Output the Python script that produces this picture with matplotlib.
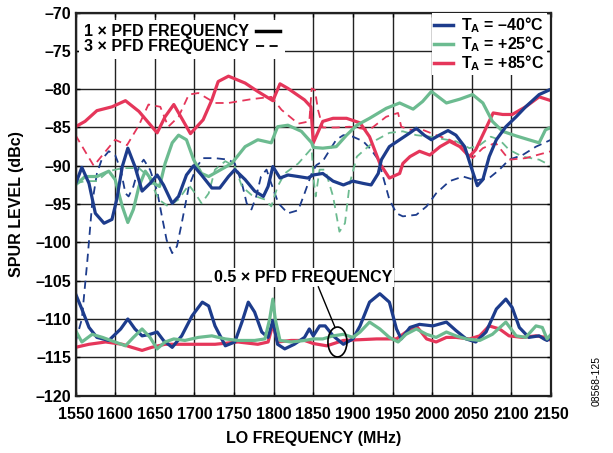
import matplotlib.pyplot as plt
from matplotlib.lines import Line2D
from matplotlib.patches import Ellipse

plt.rcParams['font.family'] = ['Liberation Sans', 'DejaVu Sans']
plt.rcParams['font.weight'] = 'bold'
plt.rcParams['mathtext.fontset'] = 'custom'
plt.rcParams['mathtext.bf'] = 'Liberation Sans:bold'
plt.rcParams['mathtext.rm'] = 'Liberation Sans:bold'
plt.rcParams['mathtext.default'] = 'bf'

# colours per temperature
BLUE = '#1d3c8c'
GREEN = '#6cbb90'
RED = '#e5365a'

# ---- 1 x PFD frequency (solid) ----
b1_f = [1550, 1558, 1567, 1575, 1586, 1596, 1602, 1609, 1616, 1625, 1634, 1644, 1653, 1661, 1672,
        1680, 1690, 1699, 1709, 1722, 1732, 1743, 1751, 1764, 1776, 1787, 1793, 1799, 1808, 1818,
        1831, 1843, 1850, 1862, 1875, 1888, 1900, 1913, 1923, 1932, 1936, 1946, 1959, 1972, 1980,
        1990, 1999, 2009, 2020, 2030, 2041, 2049, 2057, 2064, 2072, 2081, 2093, 2106, 2118, 2135, 2150]
b1_v = [-92.4, -90.2, -92.3, -96.2, -97.5, -97.0, -94.4, -90.1, -87.7, -90.1, -93.3, -92.3, -91.2, -92.5, -94.9,
        -94.0, -91.2, -90.0, -91.2, -92.9, -92.9, -91.4, -90.5, -91.8, -93.3, -94.0, -92.7, -90.1, -91.6, -91.2,
        -91.4, -91.6, -91.2, -91.0, -92.0, -92.5, -92.0, -92.3, -92.5, -91.0, -89.2, -87.5, -86.6, -85.7, -85.1,
        -86.0, -86.6, -86.0, -85.4, -86.0, -87.5, -90.1, -92.6, -91.8, -88.8, -86.6, -84.9, -83.6, -82.3, -80.7, -80.0]

g1_f = [1550, 1562, 1577, 1592, 1600, 1609, 1616, 1623, 1630, 1638, 1649, 1656, 1663, 1672, 1680,
        1690, 1699, 1709, 1718, 1730, 1747, 1764, 1780, 1797, 1805, 1818, 1835, 1848, 1850, 1862,
        1879, 1892, 1905, 1921, 1942, 1959, 1976, 1988, 1999, 2018, 2035, 2051, 2064, 2076, 2089,
        2106, 2122, 2135, 2143, 2150]
g1_v = [-92.5, -91.4, -91.4, -90.7, -91.8, -95.3, -97.4, -95.7, -92.7, -90.7, -92.3, -92.7, -89.7, -87.0, -86.0,
        -86.6, -89.2, -91.0, -91.4, -90.7, -89.7, -87.5, -86.6, -87.0, -84.9, -84.7, -85.5, -87.0, -87.6, -87.7,
        -87.5, -86.0, -84.7, -83.8, -82.5, -81.8, -82.6, -81.6, -80.3, -81.8, -81.3, -80.7, -81.8, -84.2, -85.5,
        -86.1, -86.6, -87.0, -85.3, -85.0]

r1_f = [1550, 1562, 1577, 1596, 1613, 1630, 1653, 1663, 1674, 1684, 1695, 1711, 1722, 1730, 1743,
        1764, 1780, 1799, 1808, 1818, 1839, 1847, 1850, 1862, 1875, 1892, 1909, 1921, 1934, 1946,
        1959, 1963, 1972, 1984, 1997, 2010, 2022, 2035, 2047, 2055, 2066, 2077, 2089, 2101, 2118,
        2135, 2150]
r1_v = [-84.9, -84.2, -82.8, -82.3, -81.5, -82.9, -85.7, -83.6, -82.0, -83.8, -85.8, -84.0, -81.4, -79.0, -78.3,
        -79.2, -80.3, -81.5, -79.3, -79.9, -81.4, -82.3, -87.0, -84.2, -83.8, -83.8, -84.4, -86.2, -89.7, -91.6,
        -91.0, -89.7, -88.8, -88.1, -88.6, -87.5, -86.8, -87.5, -88.8, -87.9, -85.5, -83.1, -83.3, -83.3, -82.3,
        -81.0, -81.5]

# ---- 3 x PFD frequency (dashed) ----
b3_f = [1550, 1558, 1565, 1571, 1577, 1583, 1592, 1600, 1607, 1613, 1617, 1623, 1630, 1636, 1644,
        1653, 1659, 1665, 1672, 1678, 1684, 1693, 1703, 1711, 1726, 1743, 1751, 1760, 1766, 1772,
        1778, 1784, 1791, 1797, 1806, 1818, 1831, 1839, 1848, 1854, 1862, 1871, 1879, 1888, 1900,
        1913, 1923, 1932, 1938, 1946, 1955, 1963, 1980, 1993, 2005, 2022, 2039, 2055, 2072, 2085,
        2097, 2114, 2131, 2150]
b3_v = [-113.0, -110.0, -102.3, -94.9, -91.0, -89.2, -88.1, -88.6, -90.5, -93.6, -94.0, -92.7, -90.1, -89.2, -90.5,
        -93.3, -96.6, -99.7, -101.4, -100.5, -97.5, -92.7, -90.1, -89.0, -89.0, -89.2, -89.7, -92.3, -94.9, -95.7,
        -94.0, -91.4, -90.5, -92.3, -94.9, -96.2, -95.8, -93.6, -91.0, -89.9, -89.4, -87.9, -86.6, -86.0, -86.2,
        -86.8, -87.9, -89.2, -91.4, -94.4, -96.2, -96.6, -96.4, -95.3, -93.6, -92.0, -91.4, -91.9, -91.6, -90.5,
        -89.2, -88.6, -87.5, -86.6]

g3_f = [1550, 1562, 1577, 1592, 1609, 1630, 1642, 1655, 1667, 1680, 1693, 1701, 1709, 1718, 1726,
        1739, 1751, 1760, 1772, 1789, 1797, 1805, 1814, 1831, 1843, 1848, 1850, 1853, 1858, 1865,
        1875, 1883, 1890, 1896, 1905, 1917, 1930, 1946, 1963, 1980, 1997, 2013, 2030, 2047, 2060,
        2074, 2085, 2097, 2114, 2135, 2150]
g3_v = [-92.3, -92.0, -92.0, -90.7, -90.3, -90.3, -91.4, -94.4, -95.3, -94.4, -92.5, -93.6, -94.9, -93.6, -90.5,
        -89.4, -90.1, -92.7, -93.8, -94.4, -95.3, -92.7, -91.0, -89.7, -88.3, -87.7, -91.4, -94.0, -90.5, -90.5,
        -94.0, -98.6, -97.5, -92.3, -88.8, -87.7, -86.6, -85.7, -85.5, -86.0, -86.2, -86.5, -86.8, -87.7, -87.3,
        -86.2, -86.6, -87.9, -88.8, -89.2, -90.0]

r3_f = [1550, 1562, 1573, 1588, 1600, 1615, 1630, 1642, 1657, 1667, 1680, 1693, 1705, 1726, 1743,
        1772, 1797, 1810, 1831, 1845, 1848, 1852, 1856, 1862, 1879, 1896, 1921, 1942, 1957, 1961,
        1972, 1988, 2005, 2022, 2039, 2051, 2064, 2080, 2097, 2118, 2150]
r3_v = [-86.0, -88.1, -90.0, -88.1, -86.6, -87.3, -84.7, -82.0, -82.3, -84.9, -83.6, -80.7, -80.5, -81.8, -81.8,
        -81.3, -81.0, -82.7, -84.5, -84.2, -79.9, -80.1, -82.7, -85.0, -85.0, -84.9, -85.3, -83.6, -83.1, -84.9,
        -85.3, -85.3, -86.0, -86.6, -87.5, -89.0, -87.7, -87.0, -89.2, -89.0, -88.1]

# ---- 0.5 x PFD frequency (solid, bottom group) ----
bh_f = [1550, 1558, 1567, 1577, 1592, 1607, 1616, 1625, 1634, 1644, 1653, 1661, 1672, 1684, 1697,
        1710, 1718, 1726, 1739, 1751, 1760, 1768, 1776, 1785, 1793, 1799, 1805, 1814, 1826, 1839,
        1845, 1850, 1858, 1865, 1875, 1888, 1900, 1909, 1921, 1934, 1946, 1955, 1961, 1972, 1984,
        2001, 2018, 2030, 2043, 2055, 2068, 2081, 2093, 2101, 2110, 2122, 2135, 2141, 2145, 2150]
bh_v = [-106.7, -108.7, -111.1, -112.4, -112.8, -111.3, -110.0, -111.3, -112.2, -112.0, -111.7, -112.8, -113.7, -112.2, -109.6,
        -107.8, -108.3, -110.9, -113.5, -113.0, -110.4, -107.8, -109.1, -111.7, -112.4, -110.2, -113.3, -113.9, -113.3, -112.4,
        -111.3, -112.2, -110.9, -110.9, -112.2, -113.3, -112.6, -110.9, -107.8, -106.7, -107.8, -111.3, -112.6, -111.1, -110.7,
        -110.9, -110.4, -111.5, -112.6, -113.0, -111.7, -108.7, -107.4, -108.5, -111.1, -112.4, -112.2, -112.6, -112.8, -112.4]

gh_f = [1550, 1558, 1571, 1584, 1600, 1613, 1623, 1634, 1644, 1653, 1663, 1674, 1688, 1705, 1722,
        1739, 1755, 1776, 1789, 1795, 1799, 1802, 1808, 1822, 1839, 1850, 1862, 1875, 1888, 1900,
        1909, 1921, 1934, 1946, 1957, 1967, 1980, 1993, 2005, 2018, 2030, 2043, 2060, 2076, 2093,
        2106, 2118, 2131, 2139, 2145, 2150]
gh_v = [-111.5, -113.0, -112.0, -112.4, -113.0, -113.5, -112.4, -111.3, -112.4, -113.9, -113.0, -112.6, -112.8, -112.4, -112.2,
        -112.6, -112.8, -112.8, -112.6, -110.0, -107.4, -110.0, -112.8, -113.0, -112.8, -112.6, -112.6, -112.2, -112.0, -112.4,
        -111.7, -110.4, -111.3, -112.4, -113.0, -112.0, -111.3, -112.0, -112.4, -111.7, -112.2, -112.6, -112.8, -112.0, -110.4,
        -112.2, -112.4, -110.9, -111.1, -112.6, -112.0]

rh_f = [1550, 1567, 1588, 1609, 1621, 1634, 1646, 1663, 1680, 1705, 1726, 1755, 1780, 1793, 1799,
        1805, 1822, 1839, 1850, 1867, 1888, 1909, 1930, 1955, 1967, 1980, 1993, 2005, 2018, 2030,
        2047, 2060, 2072, 2085, 2097, 2114, 2131, 2143, 2150]
rh_v = [-113.7, -113.3, -113.0, -113.3, -113.7, -114.1, -113.7, -113.3, -113.3, -113.3, -113.3, -113.0, -113.3, -113.0, -110.7,
        -113.0, -112.8, -112.8, -113.2, -113.5, -112.8, -112.7, -112.6, -112.6, -111.7, -110.9, -112.6, -113.0, -112.4, -112.4,
        -112.6, -112.2, -110.9, -111.3, -112.2, -112.4, -112.2, -112.4, -112.8]

x_ticks = [1550, 1600, 1650, 1700, 1750, 1800, 1850, 1900, 1950, 2000, 2050, 2100, 2150]
y_ticks = [-120, -115, -110, -105, -100, -95, -90, -85, -80, -75, -70]
y_labels = ['–120', '–115', '–110', '–105', '–100', '–95', '–90', '–85', '–80', '–75', '–70']
temp_labels = [r'T$_A$ = –40°C', r'T$_A$ = +25°C', r'T$_A$ = +85°C']

fig = plt.figure(figsize=(6.13, 4.53), dpi=100)
ax = fig.add_axes([0.1232, 0.1267, 0.7757, 0.8455])

solid_kw = dict(lw=2.3, solid_joinstyle='round', solid_capstyle='round')
dash_kw = dict(lw=1.3, dashes=(4.5, 3))

ax.plot(b3_f, b3_v, color=BLUE, **dash_kw)
ax.plot(g3_f, g3_v, color=GREEN, **dash_kw)
ax.plot(r3_f, r3_v, color=RED, **dash_kw)
ax.plot(r1_f, r1_v, color=RED, **solid_kw)
ax.plot(g1_f, g1_v, color=GREEN, **solid_kw)
ax.plot(b1_f, b1_v, color=BLUE, **solid_kw)
ax.plot(rh_f, rh_v, color=RED, **solid_kw)
ax.plot(bh_f, bh_v, color=BLUE, **solid_kw)
ax.plot(gh_f, gh_v, color=GREEN, **solid_kw)

ax.set_xlim(1550, 2150)
ax.set_ylim(-120, -70)
ax.set_xticks(x_ticks)
ax.set_yticks(y_ticks)
ax.set_yticklabels(y_labels)
ax.tick_params(direction='in', length=3, width=1, labelsize=11.5,
               top=True, right=True)
ax.tick_params(axis='x', pad=8)
ax.tick_params(axis='y', pad=3)
ax.grid(True, color='#222222', lw=1.0)
ax.set_axisbelow(True)
for s in ax.spines.values():
    s.set_linewidth(1.6)
    s.set_color('#222222')

ax.set_xlabel('LO FREQUENCY (MHz)', fontsize=11.5, fontweight='bold', labelpad=7)
ax.set_ylabel('SPUR LEVEL (dBc)', fontsize=11.5, fontweight='bold', labelpad=8)

# legend for harmonic order
h1 = [Line2D([], [], color='black', lw=2.5),
      Line2D([], [], color='black', lw=1.3, dashes=(4.5, 3))]
leg1 = ax.legend(h1, ['1 × PFD FREQUENCY', '3 × PFD FREQUENCY'], loc='upper left',
                 bbox_to_anchor=(0.0, 0.99), markerfirst=False, fontsize=11.5,
                 frameon=True, fancybox=False, edgecolor='none', framealpha=1,
                 handlelength=1.5, handletextpad=0.5, labelspacing=0.0,
                 borderpad=0.3, borderaxespad=0.2)
ax.add_artist(leg1)

# legend for temperature
h2 = [Line2D([], [], color=c, lw=2.5) for c in (BLUE, GREEN, RED)]
ax.legend(h2, temp_labels, loc='upper right', bbox_to_anchor=(1.0, 1.01), fontsize=11.5,
          frameon=True, fancybox=False, edgecolor='none', framealpha=1,
          handlelength=1.2, handletextpad=0.5, labelspacing=-0.04,
          borderpad=0.15, borderaxespad=0.25)

# 0.5 x PFD annotation
ax.text(1837, -104.6, '0.5 × PFD FREQUENCY', fontsize=11.5, fontweight='bold',
        ha='center', va='center', zorder=5,
        bbox=dict(facecolor='white', edgecolor='none', pad=1.5))
ax.plot([1856.4, 1877.5], [-105.8, -111.1], color='black', lw=1.0, zorder=6)
ax.add_patch(Ellipse((1880.5, -113.0), 24, 3.9, fill=False, edgecolor='black', lw=1.2, zorder=6))

fig.text(0.974, 0.16, '08568-125', rotation=90, fontsize=7.5, fontweight='normal',
         ha='center', va='center')

fig.savefig('out.png', dpi=100)
